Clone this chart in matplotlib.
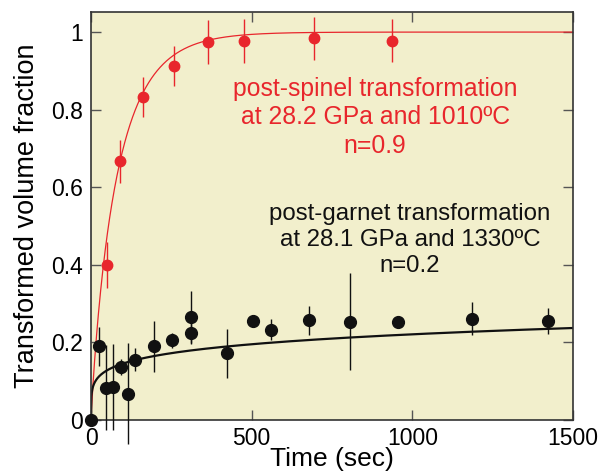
import numpy as np
import matplotlib.pyplot as plt

plt.rcParams['font.family'] = ['Liberation Sans', 'DejaVu Sans']

# post-spinel (red)
sp_t = [0, 50, 90, 163, 257, 365, 475, 693, 937]
sp_v = [0, 0.40, 0.667, 0.832, 0.912, 0.975, 0.976, 0.984, 0.978]
sp_err = [0, 0.06, 0.055, 0.052, 0.052, 0.057, 0.057, 0.056, 0.056]
sp_n = 0.9
sp_k = 0.0123

# post-garnet (black)
ga_t = [0, 25, 47, 69, 92, 116, 138, 195, 252, 310, 310, 422, 504, 559, 678, 807, 955, 1187, 1421]
ga_v = [0, 0.19, 0.083, 0.085, 0.137, 0.068, 0.156, 0.19, 0.205, 0.265, 0.224, 0.172,
        0.255, 0.233, 0.257, 0.253, 0.253, 0.261, 0.256]
ga_err = [0, 0.05, 0.11, 0.11, 0.02, 0.13, 0.03, 0.065, 0.02, 0.067, 0.027, 0.063,
          0.0, 0.027, 0.038, 0.125, 0.016, 0.042, 0.034]
ga_n = 0.2
ga_k = 9.7e-7

red = '#e8262c'
bg = '#f2efcc'

fig = plt.figure(figsize=(5.99, 4.76), dpi=100)
ax = fig.add_axes([0.152, 0.1176, 0.8046, 0.8574])
ax.set_facecolor(bg)

# Avrami fits
t = np.linspace(0, 1500, 1500)
ax.plot(t, 1 - np.exp(-(sp_k * t) ** sp_n), color=red, lw=0.9, zorder=2)
ax.plot(t, 1 - np.exp(-(ga_k * t) ** ga_n), color='#111111', lw=1.6, zorder=2)

ax.errorbar(sp_t, sp_v, yerr=sp_err, fmt='o', color=red, ms=7.5, elinewidth=1.0,
            capsize=0, zorder=3, clip_on=False)
ax.errorbar(ga_t, ga_v, yerr=ga_err, fmt='o', color='#111111', ms=8.5, elinewidth=1.0,
            capsize=0, zorder=4, clip_on=False)

ax.set_xlim(0, 1500)
ax.set_ylim(0, 1.052)
ax.set_xticks([0, 500, 1000, 1500])
ax.set_yticks([0, 0.2, 0.4, 0.6, 0.8, 1])
ax.set_yticklabels(['0', '0.2', '0.4', '0.6', '0.8', '1'])
ax.tick_params(direction='in', length=7, width=1, color='#555555', labelsize=16.5,
               top=True, right=True)
ax.tick_params(axis='y', pad=6)
ax.tick_params(axis='x', pad=5)
for s in ax.spines.values():
    s.set_color('#333333')
    s.set_linewidth(1.2)

ax.set_xlabel('Time (sec)', fontsize=19, labelpad=-2)
ax.set_ylabel('Transformed volume fraction', fontsize=19.5, labelpad=8)

ax.text(884, 0.78, 'post-spinel transformation\nat 28.2 GPa and 1010ºC\nn=0.9',
        color=red, fontsize=17.8, ha='center', va='center', linespacing=1.22)
ax.text(993, 0.464, 'post-garnet transformation\nat 28.1 GPa and 1330ºC\nn=0.2',
        color='#111111', fontsize=17.3, ha='center', va='center', linespacing=1.22)

fig.savefig('out.png', dpi=100)
